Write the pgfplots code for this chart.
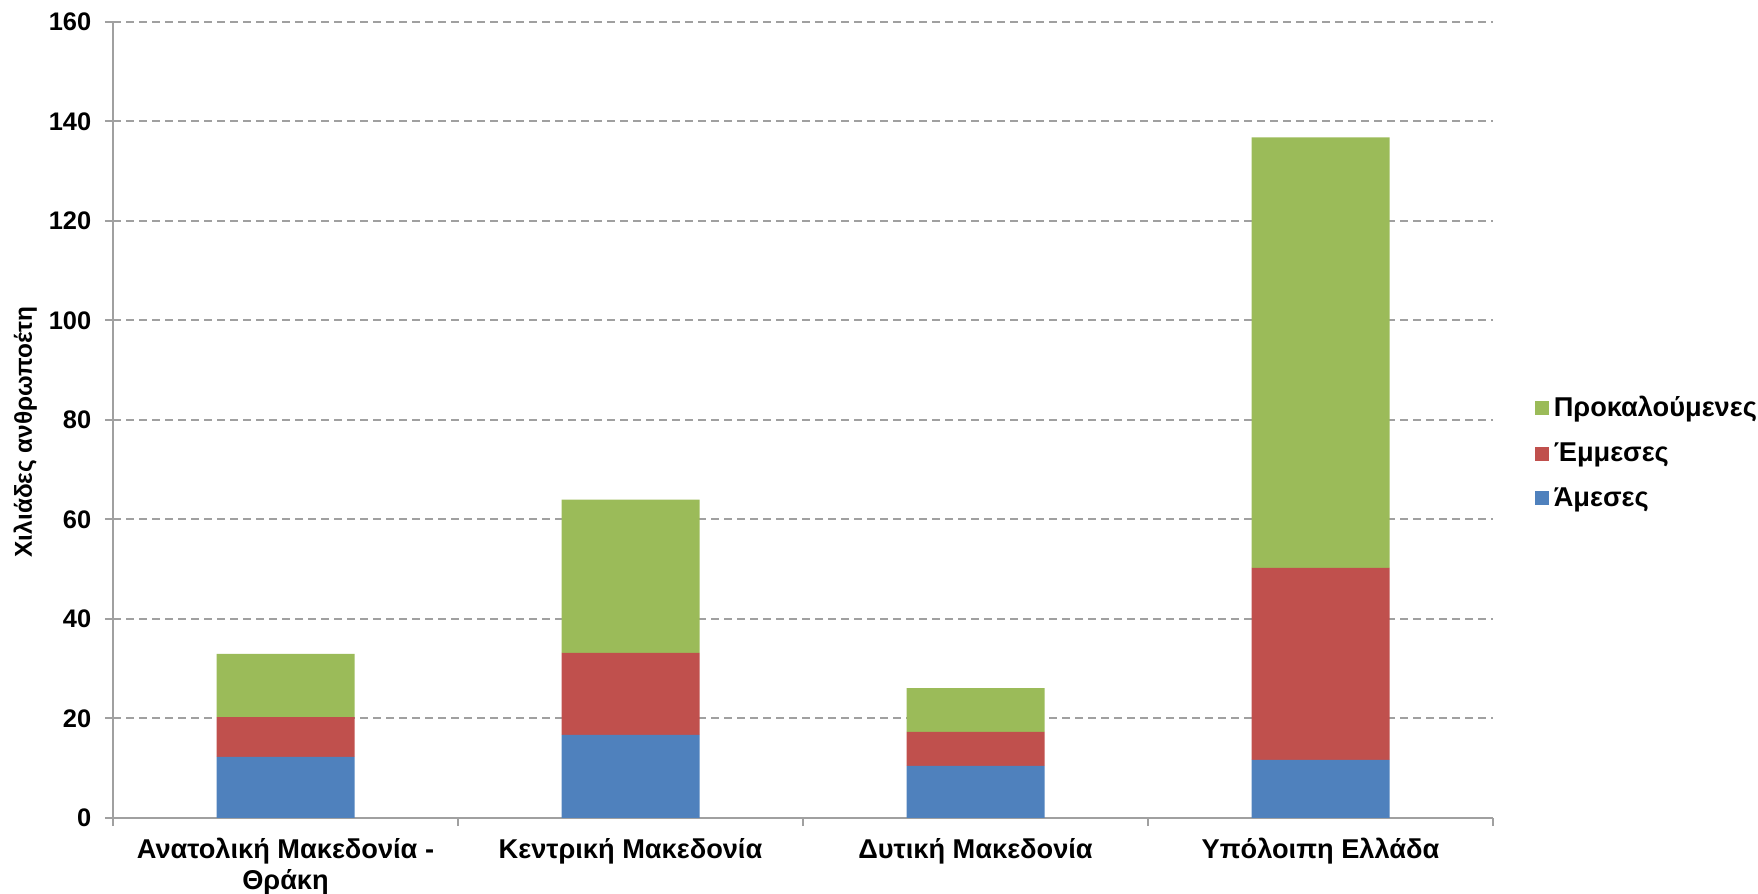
\documentclass[border=0pt]{standalone}
\usepackage{fontspec}
\setmainfont{Liberation Sans}
\usepackage{pgfplots}
\pgfplotsset{compat=1.18}
\definecolor{cblue}{HTML}{4F81BD}
\definecolor{cred}{HTML}{C0504D}
\definecolor{cgreen}{HTML}{9BBB59}
\definecolor{axgray}{HTML}{A0A0A0}
\newcommand{\lf}{\bfseries\fontsize{13.6bp}{15.7bp}\selectfont}
\newcommand{\nf}{\bfseries\fontsize{12.7bp}{15bp}\selectfont}
\newcommand{\yf}{\bfseries\fontsize{12.2bp}{15bp}\selectfont}
\begin{document}
\begin{tikzpicture}
\useasboundingbox (0,0) rectangle (879bp,447bp);
\begin{axis}[
  at={(56.5bp,38bp)}, anchor=south west,
  scale only axis, width=690bp, height=398bp,
  ybar stacked, bar width=0.4,
  xmin=-0.5, xmax=3.5, ymin=0, ymax=160,
  xtick={0,1,2,3},
  xticklabels={{Ανατολική Μακεδονία -\\Θράκη},{Κεντρική Μακεδονία},{Δυτική Μακεδονία},{Υπόλοιπη Ελλάδα}},
  minor xtick={-0.5,0.5,1.5,2.5,3.5},
  ytick={0,20,...,160},
  axis x line*=bottom, axis y line*=left,
  axis line style={axgray, line width=1.2bp},
  tick align=outside,
  major tick length=4bp, minor tick length=4bp,
  major x tick style={draw=none},
  minor x tick style={axgray, line width=1bp},
  y tick style={axgray, line width=1bp},
  ymajorgrids,
  major grid style={axgray, dash pattern=on 4bp off 2.5bp, line width=1bp},
  /pgf/number format/assume math mode=true,
  yticklabel style={font=\nf, xshift=-3.4bp},
  xticklabel style={font=\lf, align=center, yshift=-2.5bp},
  ylabel={Χιλιάδες ανθρωποέτη},
  ylabel style={font=\yf, at={(axis description cs:-0.0635,0.485)}, anchor=center},
  reverse legend,
  legend cell align=left,
  legend style={at={(1.03,0.4586)}, anchor=west, draw=none, fill=none, font=\lf,
    inner xsep=0pt, row sep=7.5bp, nodes={inner xsep=2.5bp}},
  legend image code/.code={\fill[#1] (0bp,-3.5bp) rectangle (7bp,3.5bp);},
]
\addplot[fill=cblue, draw=none] coordinates {(0,12.3) (1,16.7) (2,10.5) (3,11.7)};
\addlegendentry{Άμεσες}
\addplot[fill=cred, draw=none] coordinates {(0,8.0) (1,16.5) (2,6.8) (3,38.6)};
\addlegendentry{Έμμεσες}
\addplot[fill=cgreen, draw=none] coordinates {(0,12.7) (1,30.8) (2,8.8) (3,86.5)};
\addlegendentry{Προκαλούμενες}
\end{axis}
\end{tikzpicture}
\end{document}
